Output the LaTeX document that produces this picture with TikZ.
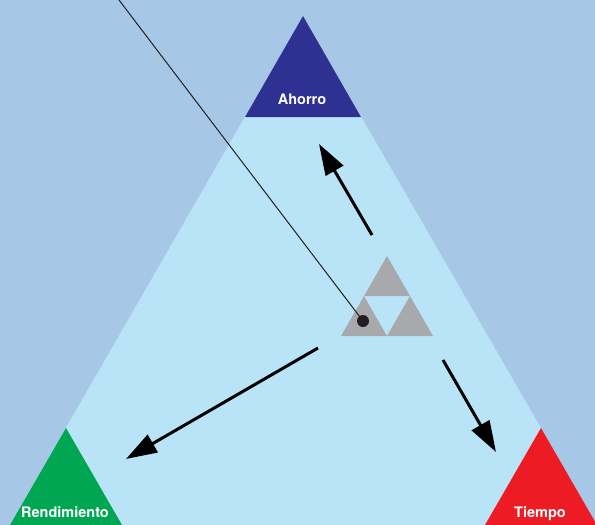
\documentclass[tikz,border=0pt]{standalone}
\usepackage{fontspec}
\setmainfont{TeX Gyre Heros}
\usetikzlibrary{arrows.meta}
\definecolor{bgblue}{HTML}{A6C8E6}
\definecolor{skyblue}{HTML}{B9E4F8}
\definecolor{navy}{HTML}{2E3192}
\definecolor{leafgreen}{HTML}{00A651}
\definecolor{signalred}{HTML}{ED1C24}
\definecolor{stonegray}{HTML}{A7A9AC}
\definecolor{ink}{HTML}{231F20}
\begin{document}
\begin{tikzpicture}[x=1pt,y=-1pt,
        cornerlabel/.style={text=white,font=\bfseries\fontsize{14.5}{16}\selectfont,inner sep=0pt,anchor=base},
        push/.style={line width=3pt,-{Triangle[length=31pt,width=20pt]}}]
        \useasboundingbox (0,0) rectangle (595,525);
        \fill[bgblue] (0,0) rectangle (595,525);
        % big triangle and its corners
        \fill[skyblue] (10,525) -- (303,16) -- (597,525) -- cycle;
        \fill[navy] (303,16) -- (361,117) -- (245,117) -- cycle;
        \fill[leafgreen] (66,428) -- (122,525) -- (10,525) -- cycle;
        \fill[signalred] (541,428) -- (597,525) -- (485,525) -- cycle;
        \node[cornerlabel] (ahorro) at (302,104) {Ahorro};
        \node[cornerlabel] (rendimiento) at (65,517) {Rendimiento};
        \node[cornerlabel] (tiempo) at (540,517) {Tiempo};
        % small triangles in the middle
        \fill[stonegray] (387,256) -- (410,296) -- (364,296) -- cycle;
        \fill[stonegray] (364,296) -- (387,336) -- (341,336) -- cycle;
        \fill[stonegray] (410,296) -- (433,336) -- (387,336) -- cycle;
        \coordinate (pin) at (363,321);
        \coordinate (top) at (119,0);
        \draw[ink,line width=1pt] (top) -- (pin);
        \fill[ink] (pin) circle (6pt);
        % arrows
        \coordinate (upfrom) at (372,235);
        \coordinate (upto) at (319,144);
        \coordinate (leftfrom) at (318,348);
        \coordinate (leftto) at (126,459);
        \coordinate (rightfrom) at (443,360);
        \coordinate (rightto) at (496,452);
        \draw[push] (upfrom) -- (upto);
        \draw[push] (leftfrom) -- (leftto);
        \draw[push] (rightfrom) -- (rightto);
    \end{tikzpicture}
\end{document}
